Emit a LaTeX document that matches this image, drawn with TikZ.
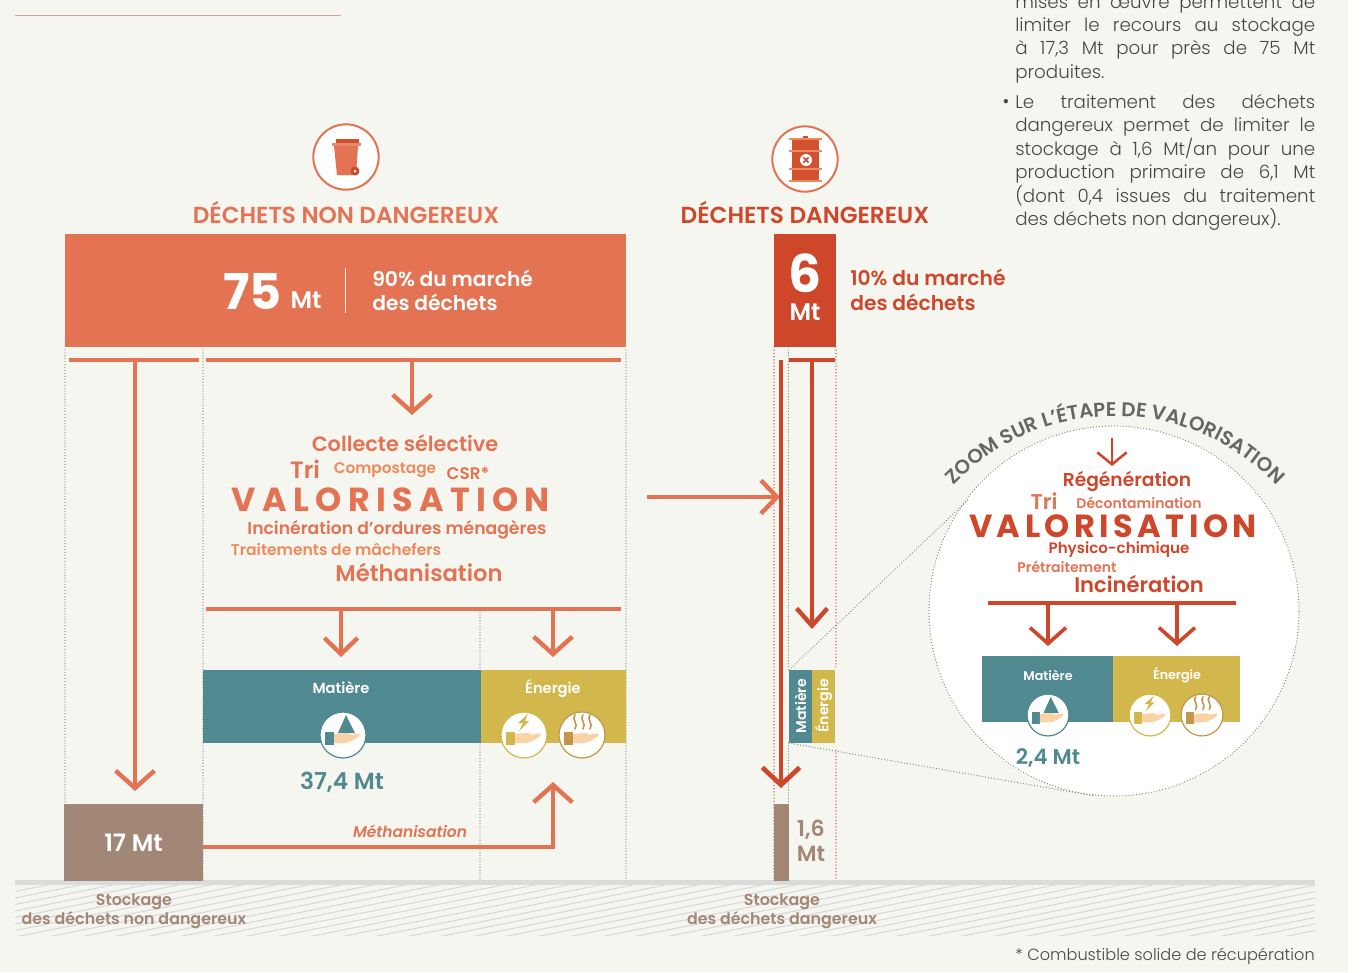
\documentclass[tikz,border=0pt]{standalone}
\usepackage{fontspec}
\setmainfont{Poppins}[BoldFont={Poppins SemiBold},ItalicFont={Poppins Italic},BoldItalicFont={Poppins SemiBold Italic}]
\newfontfamily\heavyf{Poppins Bold}
\newfontfamily\lightf{Poppins Light}
\usepackage{tikz}
\usetikzlibrary{arrows.meta,decorations.text}
\definecolor{bgc}{HTML}{F6F6F1}
\definecolor{orc}{HTML}{E37353}
\definecolor{lorc}{HTML}{EC8A5C}
\definecolor{redc}{HTML}{CF472B}
\definecolor{tealc}{HTML}{50898F}
\definecolor{yelc}{HTML}{D2B84C}
\definecolor{brnc}{HTML}{A28676}
\definecolor{dotc}{HTML}{7F847C}
\definecolor{handc}{HTML}{F9D3A5}
\definecolor{steamc}{HTML}{C2974A}
\definecolor{txtc}{HTML}{666666}
\tikzset{
  orline/.style={draw=orc, line width=3.3pt},
  redline/.style={draw=redc, line width=3.3pt},
  orarrow/.style={orc, line width=3.3pt, -{Straight Barb[length=13pt,width=29pt,line width=3.3pt]}},
  oraarrow/.style={orc, line width=3.3pt, -{Straight Barb[length=12pt,width=25pt,line width=3.3pt]}},
  redarrow/.style={redc, line width=3.3pt, -{Straight Barb[length=13pt,width=23pt,line width=3.3pt]}},
  zoomarrow/.style={redc, line width=2.7pt, -{Straight Barb[length=12pt,width=27pt,line width=2.7pt]}},
  smallarrow/.style={redc, line width=1.9pt, -{Straight Barb[length=9pt,width=22pt,line width=1.9pt]}},
  dotline/.style={draw=dotc, line cap=round, dash pattern=on 0pt off 2.2pt, line width=.95pt},
  reddot/.style={draw=redc, line cap=round, dash pattern=on 0pt off 2.4pt, line width=1.1pt},
  lbl/.style={inner sep=0pt, font=\bfseries},
}
\newcommand{\fs}[1]{\fontsize{#1}{#1}\selectfont}
\newcommand{\jline}[1]{\makebox[225pt][s]{#1}\\}
% hand icon: x, y, scale, colour of ring and cuff, object above the hand
\newcommand{\handicon}[5]{
\begin{scope}[shift={(#1,#2)},scale=#3]
\fill[white] (0,0) circle (23);
\draw[#4, line width=.9pt] (0,0) circle (23);
#5
\fill[#4] (-18,-3) rectangle (-9,10);
\fill[handc] (-9,-1) -- (3,-2) .. controls (6,-2) and (7,-1) .. (8,0) .. controls (11,-1) and (14,-2) .. (16,-1.5) .. controls (18,-1) and (17,1) .. (15,2) .. controls (10,5) and (6,8) .. (1,8) -- (-9,8) -- cycle;
\end{scope}}
\newcommand{\conepile}{\fill[tealc] (3,-20) -- (-5,-2) -- (12,-2) -- cycle;}
\newcommand{\boltmark}{\fill[yelc] (4,-21) -- (-6,-12) -- (-1,-12) -- (-5,-4) -- (5,-14) -- (1,-14) -- cycle;}
% wavy line for the steam
\newcommand{\steamline}[1]{(#1,-20) .. controls (#1-4,-16) and (#1+4,-11) .. (#1,-6)}
\newcommand{\steammark}{\draw[steamc, line width=1.2pt, line cap=round] \steamline{-7} \steamline{1} \steamline{8};}
\begin{document}
\begin{tikzpicture}[x=.75pt,y=-.75pt]
\useasboundingbox (0,0) rectangle (1365,972);
\fill[white] (0,0) rectangle (1365,972);
\fill[bgc] (0,0) rectangle (1348,972);

\draw[draw=brnc!60!orc!70, line width=.9pt] (15,15.5) -- (341,15.5);

% text on the right
\node[anchor=north west, inner sep=0pt, align=left, text=txtc!70!black, font=\lightf\fontsize{13.7}{17.6}\selectfont] (txtone) at (1015,-6) {%
\jline{mises en œuvre permettent de}\jline{limiter le recours au stockage}\jline{à 17,3 Mt pour près de 75 Mt}produites.};
\node[anchor=north west, inner sep=0pt, align=left, text=txtc!70!black, font=\lightf\fontsize{13.7}{17.6}\selectfont] (txttwo) at (1015,94) {%
\jline{Le traitement des déchets}\jline{dangereux permet de limiter le}\jline{stockage à 1,6 Mt/an pour une}\jline{production primaire de 6,1 Mt}\jline{(dont 0,4 issues du traitement}des déchets non dangereux).};
\node[anchor=east, inner sep=0pt, text=txtc!70!black, font=\fs{13.2}] (bul) at (1010,103) {•};

% icons
\node[circle, draw=orc, fill=white, line width=1.5pt, minimum size=49pt, inner sep=0pt] (binc) at (346,157) {};
\fill[orc] (334,146) -- (358,146) -- (356,175) -- (337,175) -- cycle;
\fill[orc!85!white] (332,143) rectangle (361,146);
\fill[redc!85!orc] (336,139) rectangle (359,143);
\fill[redc] (355,171) circle (4.5);
\fill[white] (355,171) circle (1.5);
\node[circle, draw=orc, fill=white, line width=1.5pt, minimum size=49pt, inner sep=0pt] (barc) at (805,159) {};
\fill[redc!80!orc] (792,139) rectangle (819,181);
\fill[redc!80!orc] (803,136) rectangle (808,139);
\foreach \yb in {139,151,169,181}
  \fill[lorc] (789,\yb-1) rectangle (822,\yb+1);
\fill[white] (806,160) circle (6);
\draw[redc, line width=1.1pt] (803.5,157.5) -- (808.5,162.5) (803.5,162.5) -- (808.5,157.5);

% heads
\node[lbl, text=orc, font=\bfseries\fs{17.4}] (hnd) at (346,212.5) {DÉCHETS NON DANGEREUX};
\node[lbl, text=redc, font=\bfseries\fs{17.4}] (hd) at (805,212.5) {DÉCHETS DANGEREUX};

% top blocks
\fill[orc] (65,234) rectangle (626,347);
\node[lbl, text=white, font=\heavyf\fs{37}, anchor=east] (sfive) at (282,291) {75};
\node[lbl, text=white, font=\bfseries\fs{18}] (mtl) at (306,300) {Mt};
\draw[white, line width=.8pt] (345.5,268) -- (345.5,313);
\node[lbl, text=white, font=\bfseries\fs{15.2}, anchor=west] (ninety) at (372,278) {90\% du marché};
\node[lbl, text=white, font=\bfseries\fs{15.2}, anchor=west] (dechl) at (372,302) {des déchets};
\fill[redc] (774,234) rectangle (836,347);
\node[lbl, text=white, font=\heavyf\fs{39}] (six) at (805,273) {6};
\node[lbl, text=white, font=\bfseries\fs{18}] (mtr) at (805,312) {Mt};
\node[lbl, text=redc, font=\bfseries\fs{15.2}, anchor=west] (ten) at (850,277) {10\% du marché};
\node[lbl, text=redc, font=\bfseries\fs{15.2}, anchor=west] (dechr) at (850,302) {des déchets};

% dotted columns
\foreach \xd in {65,203,626}
  \draw[dotline] (\xd,350) -- (\xd,880);
\draw[dotline] (480,612) -- (480,880);
\draw[reddot] (774,347) -- (774,880);
\draw[dotline] (788.5,347) -- (788.5,670);
\draw[dotline] (788.5,743) -- (788.5,804);
\draw[reddot] (836,347) -- (836,670);
\draw[reddot] (836,750) -- (836,880);

% ground
\begin{scope}
\clip (15,885) rectangle (1315,935);
\foreach \yg in {885,891.5,...,1205}
  \draw[draw=black!15, line width=.85pt] (15,\yg) -- (1315,\yg-260);
\end{scope}
\fill[black!14] (15,880) rectangle (1315,885);

% valorisation words
\node[lbl, text=orc, font=\bfseries\fs{15.6}] (coll) at (405,443) {Collecte sélective};
\node[lbl, text=orc, font=\bfseries\fs{17.7}] (tril) at (305,469) {Tri};
\node[lbl, text=lorc, font=\bfseries\fs{11.5}] (comp) at (385,470) {Compostage};
\node[lbl, text=orc, font=\bfseries\fs{12.6}] (csr) at (468,473) {CSR*};
\node[lbl, text=orc, font=\heavyf\fs{25}] (vall) at (391,500) {\addfontfeatures{LetterSpace=19}VALORISATION};
\node[lbl, text=orc, font=\bfseries\fs{12.9}] (inco) at (397,529.5) {Incinération d’ordures ménagères};
\node[lbl, text=lorc, font=\bfseries\fs{11.7}] (mach) at (336,549) {Traitements de mâchefers};
\node[lbl, text=orc, font=\bfseries\fs{17}] (meth) at (419,572) {Méthanisation};

% connectors, left part
\coordinate (al) at (135,360);
\coordinate (alend) at (135,791);
\coordinate (am) at (412,360);
\coordinate (amend) at (412,415);
\coordinate (bl) at (341,609);
\coordinate (blend) at (341,657);
\coordinate (br) at (553,609);
\coordinate (brend) at (553,657);
\coordinate (pa) at (69,360);
\coordinate (pb) at (199,360);
\coordinate (pc) at (206,360);
\coordinate (pd) at (621,360);
\coordinate (pe) at (206,609);
\coordinate (pf) at (621,609);
\draw[orline] (pa) -- (pb);
\draw[orline] (pc) -- (pd);
\draw[orline] (pe) -- (pf);
\draw[orarrow] (al) -- (alend);
\draw[orarrow] (am) -- (amend);
\draw[oraarrow] (bl) -- (blend);
\draw[orarrow] (br) -- (brend);

% matiere, energie
\fill[tealc] (203,670) rectangle (481,743);
\fill[yelc] (481,670) rectangle (626,743);
\node[lbl, text=white, font=\bfseries\fs{11}] (mat) at (341,688) {Matière};
\node[lbl, text=white, font=\bfseries\fs{11}] (ene) at (553,688) {Énergie};
\handicon{343}{735}{1}{tealc}{\conepile}
\handicon{524}{735}{1}{yelc}{\boltmark}
\handicon{582}{735}{1}{steamc}{\steammark}
\node[lbl, text=tealc, font=\bfseries\fs{17.5}] (sttf) at (342,782) {37,4 Mt};

% stockage, left
\node[fill=brnc, text=white, font=\bfseries\fs{18}, minimum width=104.25pt, minimum height=57.75pt, inner sep=0pt] (stl) at (133.5,842.5) {\raisebox{-1pt}{17 Mt}};
\coordinate (mbend) at (553,847);
\coordinate (mbtop) at (553,782);
\draw[orarrow] (stl.east |- mbend) -- (mbend) -- (mbtop);
\node[lbl, text=orc, font=\bfseries\itshape\fs{11.6}] (methi) at (410,831) {Méthanisation};

% across
\coordinate (ca) at (647,497);
\coordinate (cb) at (780,497);
\draw[oraarrow] (ca) -- (cb);

% right column
\coordinate (ra) at (789,360);
\coordinate (rb) at (835,360);
\coordinate (rc) at (812,360);
\coordinate (rcend) at (812,629);
\coordinate (rd) at (781,360);
\coordinate (rdend) at (781,788);
\draw[redline] (ra) -- (rb);
\draw[redarrow] (rc) -- (rcend);

\coordinate (za) at (789,670);
\coordinate (zb) at (968,500);
\coordinate (zc) at (789,743);
\coordinate (zd) at (1095,796);
\node[circle, draw=dotc, line cap=round, dash pattern=on 0pt off 2.2pt, fill=white, line width=.95pt, minimum size=277.5pt, inner sep=0pt] (zoomc) at (1114,611) {};
\draw[dotline] (za) -- (zb);
\draw[dotline] (zc) -- (zd);

\fill[tealc] (789,670) rectangle (812,743);
\fill[yelc] (812,670) rectangle (835,743);
\node[lbl, rotate=90, text=white, font=\bfseries\fs{10.6}] (matv) at (800.5,706) {Matière};
\node[lbl, rotate=90, text=white, font=\bfseries\fs{10.6}] (enev) at (823.5,706) {Énergie};
\draw[redc, line width=3.7pt, -{Straight Barb[length=13pt,width=28pt,line width=3.5pt]}] (rd) -- (rdend);
\fill[brnc] (774,804) rectangle (789,881);
\node[lbl, text=brnc, font=\bfseries\fs{16.5}] (sixa) at (811,830) {1,6};
\node[lbl, text=brnc, font=\bfseries\fs{16.5}] (sixb) at (811,853.5) {Mt};

% ground labels
\node[lbl, text=brnc, font=\bfseries\fs{11.9}] (sla) at (134,901.5) {Stockage};
\node[lbl, text=brnc, font=\bfseries\fs{11.9}] (slb) at (134,920.5) {des déchets non dangereux};
\node[lbl, text=brnc, font=\bfseries\fs{11.9}] (sra) at (782,901.5) {Stockage};
\node[lbl, text=brnc, font=\bfseries\fs{11.9}] (srb) at (782,920.5) {des déchets dangereux};
\node[inner sep=0pt, anchor=east, text=txtc!70!black, font=\lightf\fs{12.1}] (foot) at (1315,956) {* Combustible solide de récupération};

% zoom circle
\path[decorate, decoration={text along path, text align=center,
  text={|\bfseries\fs{14.9}\color{txtc}|ZOOM SUR L’ÉTAPE DE VALORISATION}}]
  plot[domain=-150:-30,samples=50] ({1115+223*cos(\x)},{639+223*sin(\x)});
\coordinate (zarr) at (1112,438);
\coordinate (zarrend) at (1112,466);
\draw[smallarrow] (zarr) -- (zarrend);
\node[lbl, text=redc, font=\bfseries\fs{14}] (reg) at (1127,481.5) {Régénération};
\node[lbl, text=orc, font=\bfseries\fs{16}] (trir) at (1044,501) {Tri};
\node[lbl, text=orc, font=\bfseries\fs{10.5}] (deco) at (1139,503) {Décontamination};
\node[lbl, text=redc, font=\heavyf\fs{24}] (valr) at (1113,526) {\addfontfeatures{LetterSpace=14}VALORISATION};
\node[lbl, text=redc, font=\bfseries\fs{11.3}] (phys) at (1119,550) {Physico-chimique};
\node[lbl, text=orc, font=\bfseries\fs{10.5}] (pret) at (1067,567) {Prétraitement};
\node[lbl, text=redc, font=\bfseries\fs{15.8}] (incr) at (1139,584) {Incinération};
\coordinate (ze) at (988,603);
\coordinate (zf) at (1236,603);
\coordinate (zg) at (1048,603);
\coordinate (zgend) at (1048,646);
\coordinate (zh) at (1177,603);
\coordinate (zhend) at (1177,646);
\draw[redline, line width=2.4pt] (ze) -- (zf);
\draw[zoomarrow] (zg) -- (zgend);
\draw[zoomarrow] (zh) -- (zhend);
\fill[tealc] (982,656) rectangle (1113,722);
\fill[yelc] (1113,656) rectangle (1240,722);
\node[lbl, text=white, font=\bfseries\fs{9.5}] (matz) at (1048,675) {Matière};
\node[lbl, text=white, font=\bfseries\fs{9.5}] (enez) at (1177,675) {Énergie};
\handicon{1048}{715}{.91}{tealc}{\conepile}
\handicon{1150}{715}{.91}{yelc}{\boltmark}
\handicon{1202}{715}{.91}{steamc}{\steammark}
\node[lbl, text=tealc, font=\bfseries\fs{16}] (stfour) at (1048,758) {2,4 Mt};
\end{tikzpicture}
\end{document}
